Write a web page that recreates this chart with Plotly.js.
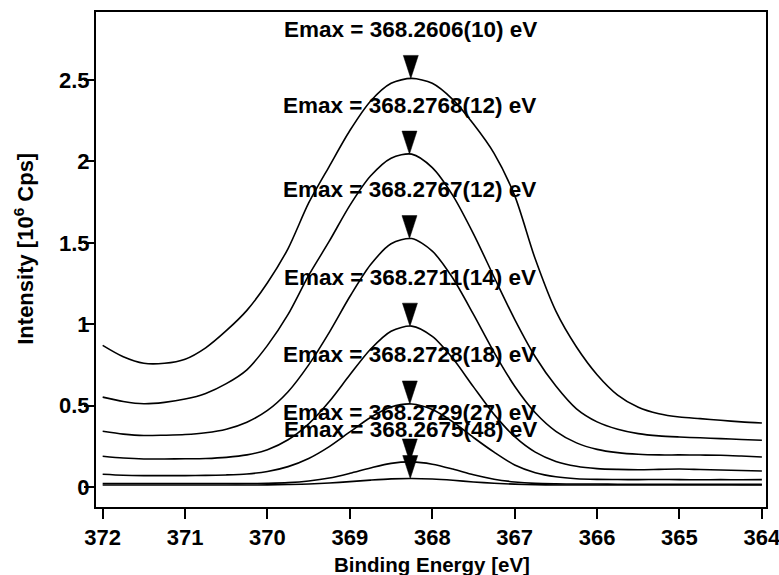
<!DOCTYPE html>
<html>
<head>
<meta charset="utf-8">
<script src="https://cdn.plot.ly/plotly-3.0.1.min.js"></script>
<style>
  html, body { margin: 0; padding: 0; background: #fff; }
  #chart { width: 779px; height: 575px; }
</style>
</head>
<body>
<div id="chart"></div>
<script>
// Binding energy grid (eV), shared by all spectra
const energy = [372, 371.75, 371.5, 371.25, 371, 370.75, 370.5, 370.25, 370, 369.75,
  369.5, 369.25, 369, 368.75, 368.5, 368.25, 368, 367.75, 367.5, 367.25,
  367, 366.75, 366.5, 366.25, 366, 365.75, 365.5, 365.25, 365, 364.75,
  364.5, 364.25, 364];

// Intensity (10^6 Cps), one array per spectrum, highest first
const spec1 = [0.87, 0.80, 0.76, 0.76, 0.785, 0.855, 0.96, 1.085, 1.255, 1.465,
  1.745, 1.97, 2.19, 2.37, 2.48, 2.51, 2.48, 2.38, 2.23, 2.05,
  1.79, 1.40, 1.08, 0.86, 0.69, 0.565, 0.49, 0.45, 0.43, 0.42,
  0.41, 0.40, 0.393];
const spec2 = [0.552, 0.525, 0.511, 0.52, 0.54, 0.575, 0.635, 0.72, 0.87, 1.06,
  1.30, 1.51, 1.73, 1.91, 2.02, 2.045, 1.962, 1.79, 1.555, 1.29,
  1.03, 0.80, 0.62, 0.48, 0.40, 0.355, 0.328, 0.314, 0.307, 0.302,
  0.297, 0.292, 0.287];
const spec3 = [0.342, 0.325, 0.316, 0.318, 0.322, 0.333, 0.355, 0.398, 0.47, 0.585,
  0.75, 0.95, 1.17, 1.365, 1.494, 1.526, 1.449, 1.282, 1.06, 0.827,
  0.619, 0.456, 0.342, 0.271, 0.231, 0.211, 0.201, 0.197, 0.197, 0.196,
  0.195, 0.19, 0.184];
const spec4 = [0.189, 0.178, 0.172, 0.172, 0.173, 0.175, 0.182, 0.197, 0.229, 0.29,
  0.388, 0.525, 0.689, 0.846, 0.957, 0.988, 0.925, 0.789, 0.615, 0.446,
  0.309, 0.214, 0.157, 0.127, 0.113, 0.108, 0.106, 0.108, 0.11, 0.107,
  0.104, 0.101, 0.098];
const spec5 = [0.078, 0.072, 0.070, 0.070, 0.070, 0.071, 0.074, 0.080, 0.095, 0.125,
  0.175, 0.248, 0.338, 0.427, 0.491, 0.51, 0.476, 0.40, 0.304, 0.214,
  0.135, 0.088, 0.063, 0.051, 0.047, 0.046, 0.045, 0.046, 0.045, 0.044,
  0.045, 0.044, 0.045];
const spec6 = [0.021, 0.021, 0.021, 0.021, 0.021, 0.021, 0.021, 0.021, 0.023, 0.027,
  0.037, 0.055, 0.084, 0.117, 0.145, 0.154, 0.140, 0.110, 0.075, 0.048,
  0.031, 0.022, 0.019, 0.018, 0.018, 0.017, 0.017, 0.017, 0.017, 0.017,
  0.017, 0.016, 0.016];
const spec7 = [0.012, 0.012, 0.012, 0.012, 0.012, 0.012, 0.012, 0.012, 0.013, 0.015,
  0.018, 0.024, 0.033, 0.042, 0.0495, 0.052, 0.0486, 0.041, 0.031, 0.023,
  0.0175, 0.014, 0.012, 0.012, 0.012, 0.012, 0.012, 0.012, 0.012, 0.012,
  0.012, 0.012, 0.012];

// Fitted peak positions and their uncertainties (last digits)
const emax = [368.2606, 368.2768, 368.2767, 368.2711, 368.2728, 368.2729, 368.2675];
const emaxErr = ['10', '12', '12', '14', '18', '27', '48'];

// Axis ticks
const xTicks = [372, 371, 370, 369, 368, 367, 366, 365, 364];
const yTicks = [0, 0.5, 1, 1.5, 2, 2.5];
const yTickText = ['0', '0.5', '1', '1.5', '2', '2.5'];

const spectra = [spec1, spec2, spec3, spec4, spec5, spec6, spec7];
const FONT = 'Liberation Sans, Arial, Helvetica, sans-serif';

const traces = spectra.map(s => ({
  x: energy, y: s, type: 'scatter', mode: 'lines',
  line: { color: '#000', width: 1.6, shape: 'spline', smoothing: 0.8 },
  hoverinfo: 'x+y'
}));

// Peak markers (downward triangles touching each maximum) and their labels
const shapes = [];
const annotations = [];
spectra.forEach((s, i) => {
  const top = Math.max(...s);
  shapes.push({
    type: 'path', xref: 'x', yref: 'y',
    xsizemode: 'pixel', ysizemode: 'pixel',
    xanchor: emax[i], yanchor: top,
    path: 'M -7.5 23 L 7.5 23 L 0 0 Z',
    fillcolor: '#000', line: { color: '#000', width: 0.5 }
  });
  annotations.push({
    x: emax[i], y: top, xref: 'x', yref: 'y',
    text: 'Emax = ' + emax[i].toFixed(4) + '(' + emaxErr[i] + ') eV',
    showarrow: false, xanchor: 'center', yanchor: 'middle', yshift: 49,
    font: { family: FONT, size: 22.5, color: '#000', weight: 'bold' }
  });
});

// Axis titles
annotations.push({
  xref: 'paper', yref: 'paper', x: -0.108, y: 0.521,
  text: 'Intensity [10<sup>6</sup> Cps]', textangle: -90, showarrow: false,
  xanchor: 'center', yanchor: 'middle',
  font: { family: FONT, size: 22, color: '#000', weight: 'bold' }
});
annotations.push({
  xref: 'paper', yref: 'paper', x: 0.5015, y: -0.117,
  text: 'Binding Energy [eV]', showarrow: false,
  xanchor: 'center', yanchor: 'middle',
  font: { family: FONT, size: 20.5, color: '#000', weight: 'bold' }
});

const axisCommon = {
  showline: true, linecolor: '#000', linewidth: 2, mirror: true,
  ticks: 'outside', ticklen: 10, tickwidth: 2, tickcolor: '#000',
  showgrid: false, zeroline: false, ticklabeloverflow: 'allow',
  tickfont: { family: FONT, size: 22, color: '#000', weight: 'bold' }
};

const layout = {
  width: 779, height: 575,
  margin: { l: 96, r: 13, t: 12, b: 68, pad: 0 },
  paper_bgcolor: '#fff', plot_bgcolor: '#fff',
  showlegend: false,
  font: { family: FONT, color: '#000' },
  xaxis: Object.assign({}, axisCommon, {
    range: [372.081, 363.95], tickvals: xTicks,
    ticktext: xTicks.map(String), ticklabelstandoff: 0
  }),
  yaxis: Object.assign({}, axisCommon, {
    range: [-0.123, 2.918], tickvals: yTicks, ticktext: yTickText,
    ticklabelstandoff: -10
  }),
  shapes: shapes,
  annotations: annotations
};

Plotly.newPlot('chart', traces, layout, { staticPlot: true, displayModeBar: false });
</script>
</body>
</html>
